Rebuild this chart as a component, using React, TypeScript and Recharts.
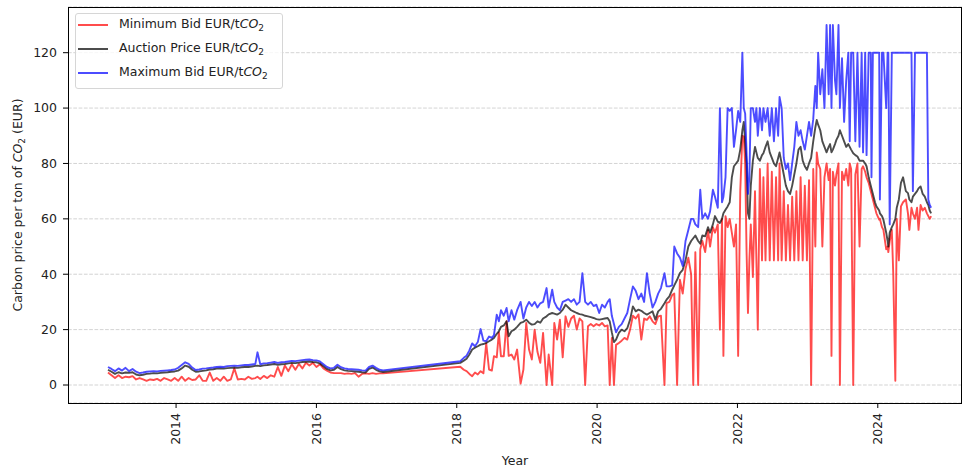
import { LineChart, Line, XAxis, YAxis, CartesianGrid } from "recharts";

// auction dates as decimal years
const dates = [
  2013.03, 2013.08, 2013.13, 2013.18, 2013.23, 2013.28, 2013.33, 2013.38, 2013.43, 2013.48,
  2013.53, 2013.58, 2013.63, 2013.68, 2013.73, 2013.78, 2013.83, 2013.88, 2013.93, 2013.98,
  2014.03, 2014.08, 2014.13, 2014.18, 2014.23, 2014.28, 2014.33, 2014.38, 2014.43, 2014.48,
  2014.53, 2014.58, 2014.63, 2014.68, 2014.73, 2014.78, 2014.83, 2014.88, 2014.93, 2014.98,
  2015.03, 2015.08, 2015.13, 2015.16, 2015.2, 2015.25, 2015.3, 2015.35, 2015.4, 2015.45,
  2015.5, 2015.55, 2015.6, 2015.65, 2015.7, 2015.75, 2015.8, 2015.85, 2015.9, 2015.95,
  2016.0, 2016.05, 2016.1, 2016.15, 2016.2, 2016.25, 2016.3, 2016.35, 2016.4, 2016.45,
  2016.5, 2016.55, 2016.6, 2016.65, 2016.7, 2016.75, 2016.8, 2016.85, 2016.9, 2016.95,
  2018.05, 2018.1, 2018.14, 2018.18, 2018.22, 2018.26, 2018.3, 2018.34, 2018.38, 2018.42,
  2018.46, 2018.5, 2018.53, 2018.57, 2018.6, 2018.63, 2018.67, 2018.71, 2018.74, 2018.78,
  2018.82, 2018.86, 2018.91, 2018.95, 2018.99, 2019.03, 2019.07, 2019.11, 2019.15, 2019.19,
  2019.23, 2019.28, 2019.31, 2019.36, 2019.39, 2019.43, 2019.47, 2019.51, 2019.55, 2019.59,
  2019.63, 2019.67, 2019.71, 2019.75, 2019.79, 2019.83, 2019.87, 2019.91, 2019.95, 2019.99,
  2020.03, 2020.07, 2020.11, 2020.15, 2020.18, 2020.21, 2020.24, 2020.27, 2020.31, 2020.35,
  2020.39, 2020.43, 2020.47, 2020.51, 2020.55, 2020.59, 2020.63, 2020.67, 2020.71, 2020.75,
  2020.79, 2020.83, 2020.87, 2020.91, 2020.96, 2020.99, 2021.03, 2021.07, 2021.1, 2021.14,
  2021.18, 2021.22, 2021.26, 2021.3, 2021.34, 2021.37, 2021.4, 2021.44, 2021.47, 2021.5,
  2021.54, 2021.58, 2021.61, 2021.65, 2021.68, 2021.72, 2021.75, 2021.78, 2021.8, 2021.83,
  2021.86, 2021.89, 2021.92, 2021.95, 2021.98, 2022.01, 2022.04, 2022.07, 2022.09, 2022.11,
  2022.13, 2022.15, 2022.17, 2022.19, 2022.22, 2022.25, 2022.27, 2022.29, 2022.32, 2022.35,
  2022.37, 2022.4, 2022.43, 2022.46, 2022.49, 2022.52, 2022.55, 2022.58, 2022.6, 2022.63,
  2022.66, 2022.69, 2022.72, 2022.75, 2022.78, 2022.81, 2022.84, 2022.87, 2022.9, 2022.93,
  2022.96, 2022.99, 2023.02, 2023.05, 2023.08, 2023.11, 2023.13, 2023.15, 2023.18, 2023.21,
  2023.24, 2023.27, 2023.3, 2023.32, 2023.34, 2023.36, 2023.39, 2023.41, 2023.44, 2023.46,
  2023.49, 2023.52, 2023.55, 2023.58, 2023.6, 2023.62, 2023.65, 2023.68, 2023.71, 2023.74,
  2023.77, 2023.79, 2023.82, 2023.84, 2023.87, 2023.9, 2023.91, 2023.93, 2023.96, 2023.98,
  2024.02, 2024.03, 2024.06, 2024.08, 2024.12, 2024.14, 2024.15, 2024.17, 2024.2, 2024.22,
  2024.25, 2024.27, 2024.3, 2024.33, 2024.36, 2024.4, 2024.43, 2024.45, 2024.48, 2024.5,
  2024.53, 2024.56, 2024.58, 2024.61, 2024.64, 2024.67, 2024.7, 2024.72, 2024.74, 2024.76,
];

const minBid = [
  4.5, 3.5, 2.5, 3.5, 2.5, 3.0, 2.8, 3.2, 2.0, 2.5,
  2.0, 1.5, 2.0, 1.8, 2.2, 1.5, 2.5, 2.0, 1.5, 2.5,
  1.5, 3.0, 1.5, 2.5, 1.8, 2.0, 3.5, 1.5, 1.5, 4.5,
  1.5, 2.5, 1.5, 3.0, 1.5, 2.0, 6.0, 2.0, 2.2, 2.0,
  3.0, 2.2, 2.5, 3.0, 2.2, 3.3, 2.5, 3.5, 3.0, 6.5,
  3.3, 7.0, 5.0, 7.5, 5.5, 7.6, 6.0, 8.0, 7.0, 8.0,
  6.5, 7.5, 6.0, 5.2, 4.5, 4.3, 4.3, 4.3, 4.0, 4.2,
  4.0, 4.3, 3.0, 4.0, 4.2, 4.0, 4.3, 4.0, 4.2, 4.2,
  6.6, 5.5, 5.0, 4.0, 3.2, 4.5, 3.8, 5.0, 4.2, 15.0,
  5.6, 5.2, 10.4, 10.0, 19.0, 10.4, 10.4, 23.0, 10.5, 11.0,
  9.2, 12.8, 0.5, 5.6, 22.4, 12.8, 9.2, 20.0, 12.0, 8.0,
  18.8, 0, 11.0, 0, 22.4, 16.4, 23.6, 10.0, 24.8, 21.0,
  24.0, 25.0, 20.0, 24.0, 23.0, 0, 21.2, 22.0, 21.2, 22.0,
  21.5, 22.4, 21.2, 21.5, 0, 17.0, 0, 14.5, 15.2, 16.0,
  17.0, 16.4, 20.0, 25.0, 24.0, 25.5, 16.4, 24.0, 23.5, 24.8,
  23.0, 22.0, 24.8, 25.0, 0, 29.6, 30.0, 32.5, 33.0, 0,
  38.0, 33.0, 42, 46, 40, 0, 48, 0, 49, 52,
  48, 56, 50, 57, 55, 58, 20, 60, 10.5, 61,
  57, 60, 55, 50, 58, 10.5, 70, 90, 89.7, 80,
  48, 26, 45, 58, 39, 70, 45, 20, 78, 45,
  75, 45, 80, 45, 77, 45, 75, 45, 80, 45,
  70, 45, 65, 45, 68, 45, 70, 45, 75, 45,
  72, 45, 74, 0, 78, 50, 84, 80, 78, 50,
  75, 80, 74, 78, 10.5, 77, 72, 76, 80, 0,
  77, 74, 78, 72, 80, 78, 0, 76, 80, 50,
  78, 79, 77, 75, 73, 70, 69, 67, 64, 62,
  59.7, 60, 57, 56, 49, 50, 48, 52, 56, 40.5,
  1.5, 60, 45, 64.5, 66, 67, 62, 56, 64, 62,
  60, 64, 56, 65, 63, 64, 62, 61, 60, 61,
];

const auctionPrice = [
  5.5, 4.8, 4.0, 4.6, 4.2, 4.5, 4.4, 4.6, 3.8, 3.5,
  3.7, 4.0, 4.1, 4.3, 4.2, 4.4, 4.5, 4.6, 4.8, 4.9,
  5.2, 6.0, 7.0, 6.6, 5.5, 4.8, 4.9, 5.1, 5.3, 5.6,
  5.7, 5.9, 6.0, 5.9, 6.1, 6.2, 6.3, 6.2, 6.4, 6.5,
  6.5, 6.7, 6.9, 7.0, 6.8, 7.1, 7.2, 7.4, 7.6, 7.3,
  7.5, 7.6, 7.8, 8.0, 7.9, 8.1, 8.3, 8.4, 8.5, 8.3,
  8.2, 7.8, 6.8, 5.8, 5.3, 5.5, 6.5, 5.7, 5.3, 5.1,
  5.0, 4.9, 4.8, 4.6, 4.5, 5.8, 6.3, 5.5, 4.9, 4.7,
  8.0, 8.8, 9.5, 11.0, 12.8, 13.5, 14.0, 14.6, 14.8, 15.2,
  15.8, 16.4, 17.0, 18.5, 19.4, 21.0, 21.5, 23.0, 17.6, 19.4,
  20.0, 21.0, 22.4, 22.8, 23.6, 22.5, 21.8, 22.0, 23.0, 22.5,
  24.0, 24.8, 25.5, 26.0, 25.8, 25.4, 26.0, 27.2, 29.0, 28.0,
  27.0, 26.5, 26.0, 25.6, 25.4, 25.0, 24.8, 24.5, 24.2, 23.8,
  23.6, 23.8, 24.0, 24.2, 23.0, 19.0, 15.5, 16.4, 18.8, 20.0,
  19.4, 20.5, 23.6, 28.4, 26.6, 27.2, 26.8, 26.0, 25.4, 26.0,
  26.6, 23.6, 26.6, 27.5, 29.5, 30.8, 32.0, 34.4, 36.0, 38.0,
  40.4, 41.6, 45, 50, 52, 53, 54, 52, 51, 54,
  53.7, 57, 55, 58, 61, 59, 58.5, 60, 62, 63.3,
  64.5, 66, 75, 79, 80, 81, 85, 92, 95, 88,
  80, 62, 60, 72, 81, 86, 84, 82, 81, 83,
  83.7, 86, 88, 84, 82, 80, 79, 82, 84, 80,
  76, 72, 70, 69, 72, 76, 80, 85, 86, 81,
  79, 77.7, 80, 82, 88, 93, 95.7, 94, 92, 88,
  86, 84, 86, 87, 84, 85, 87, 88.5, 90, 92,
  90, 88, 86, 87, 86, 85, 83.7, 83, 82.5, 81,
  81, 81, 80, 79, 75, 72, 71, 69, 66, 64.5,
  63, 62, 61, 59.7, 55, 52, 50, 55, 57, 58,
  60, 64, 67, 73, 75, 70, 69.3, 67, 66, 68,
  69, 70, 71, 71.7, 69, 68, 66, 65, 63, 62,
];

const maxBid = [
  6.5, 5.8, 5.0, 6.0, 5.2, 6.2, 5.0, 5.8, 4.8, 4.3,
  4.5, 4.8, 4.9, 5.0, 4.9, 5.1, 5.2, 5.3, 5.4, 5.6,
  6.2, 7.2, 8.2, 7.6, 6.3, 5.4, 5.6, 5.9, 6.0, 6.2,
  6.3, 6.5, 6.6, 6.5, 6.8, 6.9, 7.0, 6.9, 7.1, 7.2,
  7.2, 7.4, 7.6, 11.8, 7.5, 7.8, 7.9, 8.1, 8.3, 8.0,
  8.2, 8.3, 8.5, 8.7, 8.6, 8.8, 9.0, 9.1, 9.2, 9.0,
  8.9, 8.5, 7.5, 6.5, 6.0, 6.2, 7.3, 6.4, 6.0, 5.8,
  5.7, 5.6, 5.5, 5.3, 5.2, 6.5, 7.0, 6.2, 5.5, 5.3,
  8.6, 9.8, 10.6, 12.5, 15.0, 14.0, 15.5, 20.2, 16.0, 15.8,
  17.5, 17.0, 18.0, 25.4, 23.0, 27.0, 25.0, 27.8, 23.0, 27.0,
  23.6, 27.0, 30.0, 24.0, 28.0, 30.0, 28.5, 30.0, 28.0, 29.5,
  30.0, 35.0, 28.0, 34.4, 30.0, 28.0, 27.0, 30.0, 30.5, 31.0,
  30.0, 31.0, 29.0, 30.0, 40.4, 30.0, 29.0, 30.0, 28.5, 29.0,
  26.0, 29.0, 28.0, 30.0, 31.0, 25.0, 22.0, 19.0, 21.0, 22.0,
  24.0, 26.0, 31.0, 35.6, 34.0, 31.0, 33.0, 30.0, 40.4, 33.0,
  28.0, 30.0, 33.0, 35.0, 40.4, 35.6, 35.6, 36.0, 50.0, 47.5,
  46.0, 43.0, 52, 56, 60, 60, 58, 57, 70.5, 60,
  62, 60, 62.7, 70.5, 68, 64, 100, 66, 68, 75,
  100, 99, 100, 86, 92, 99, 95, 120, 100, 98,
  84, 69, 75, 100, 100, 95, 100, 90, 100, 92,
  100, 95, 100, 90, 100, 88, 100, 90, 104, 100,
  82, 78, 80, 74, 80, 86, 95, 90, 92, 88,
  85, 90, 95, 90, 96, 108, 100, 120, 105, 114,
  100, 130, 105, 130, 100, 130, 110, 105, 130, 100,
  118, 95, 110, 120, 88, 120, 120, 88, 120, 86,
  120, 84, 120, 83, 120, 120, 75, 120, 120, 120,
  120, 67, 120, 120, 100, 120, 120, 58, 120, 120,
  120, 120, 120, 120, 120, 120, 120, 120, 120, 70,
  120, 120, 120, 120, 120, 120, 120, 67, 65, 64,
];

const yearTicks = [2014, 2016, 2018, 2020, 2022, 2024];
const priceTicks = [0, 20, 40, 60, 80, 100, 120];

const SERIES = [
  { key: "min", label: "Minimum Bid EUR/t", color: "red" },
  { key: "auction", label: "Auction Price EUR/t", color: "black" },
  { key: "max", label: "Maximum Bid EUR/t", color: "blue" },
];

const FONT = "'DejaVu Sans', sans-serif";
const TEXT = "#222";

const chartData = dates.map((date, i) => ({
  date,
  min: minBid[i],
  auction: auctionPrice[i],
  max: maxBid[i],
}));

// 이탤릭 CO + 아래첨자 2
const CO2 = () => (
  <>
    <span style={{ fontStyle: "italic" }}>CO</span>
    <span style={{ fontSize: 9, position: "relative", top: 3 }}>2</span>
  </>
);

const YearTick = ({ x, payload }: any) => (
  <text
    x={x}
    y={413}
    transform={`rotate(-90, ${x}, 413)`}
    textAnchor="end"
    dy="0.35em"
    fontSize={12.5}
    fill={TEXT}
    fontFamily={FONT}
  >
    {payload.value}
  </text>
);

const PriceTick = ({ y, payload }: any) => (
  <text x={57} y={y} textAnchor="end" dy="0.35em" fontSize={12.5} fill={TEXT} fontFamily={FONT}>
    {payload.value}
  </text>
);

export default function App() {
  return (
    <div
      style={{
        position: "fixed",
        left: 0,
        top: 0,
        width: 963,
        height: 471,
        background: "#fff",
        fontFamily: FONT,
        color: TEXT,
      }}
    >
      <LineChart width={963} height={471} data={chartData} margin={{ top: 7, right: 1, bottom: 0, left: 0 }}>
        <CartesianGrid vertical={false} stroke="#c8c8c8" strokeWidth={0.8} strokeDasharray="3.7 1.6" />
        <XAxis
          dataKey="date"
          type="number"
          domain={[2012.46, 2025.2]}
          allowDataOverflow
          ticks={yearTicks}
          interval={0}
          height={68}
          axisLine={false}
          tickLine={{ stroke: "#000" }}
          tickSize={5}
          tick={(p: any) => <YearTick {...p} />}
        />
        <YAxis
          type="number"
          domain={[-6.5, 136.5]}
          allowDataOverflow
          ticks={priceTicks}
          interval={0}
          width={68}
          axisLine={false}
          tickLine={{ stroke: "#000" }}
          tickSize={5}
          tick={(p: any) => <PriceTick {...p} />}
        />
        {SERIES.map((s) => (
          <Line
            key={s.key}
            dataKey={s.key}
            type="linear"
            stroke={s.color}
            strokeOpacity={0.7}
            strokeWidth={1.9}
            strokeLinejoin="round"
            dot={false}
            activeDot={false}
            isAnimationActive={false}
          />
        ))}
      </LineChart>

      {/* 축 테두리 */}
      <div
        style={{
          position: "absolute",
          left: 68,
          top: 7,
          width: 894,
          height: 397,
          border: "1px solid #000",
          boxSizing: "border-box",
          pointerEvents: "none",
        }}
      />

      {/* 범례 */}
      <div
        style={{
          position: "absolute",
          left: 75,
          top: 13,
          width: 208,
          height: 76,
          border: "1px solid #d6d6d6",
          borderRadius: 3,
          background: "rgba(255,255,255,0.8)",
          boxSizing: "border-box",
        }}
      />
      {SERIES.map((s, i) => (
        <div key={s.key}>
          <div
            style={{
              position: "absolute",
              left: 78,
              top: 24 + i * 24,
              width: 30,
              height: 1.9,
              background: s.color,
              opacity: 0.7,
            }}
          />
          <div
            style={{
              position: "absolute",
              left: 119,
              top: 16 + i * 24,
              fontSize: 12.5,
              lineHeight: "16px",
              whiteSpace: "nowrap",
            }}
          >
            {s.label}
            <CO2 />
          </div>
        </div>
      ))}

      {/* y축 제목 */}
      <div
        style={{
          position: "absolute",
          left: 17,
          top: 205,
          transform: "translate(-50%, -50%) rotate(-90deg)",
          fontSize: 12.5,
          whiteSpace: "nowrap",
        }}
      >
        Carbon price per ton of <CO2 /> (EUR)
      </div>

      {/* x축 제목 */}
      <div
        style={{
          position: "absolute",
          left: 515,
          top: 460,
          transform: "translate(-50%, -50%)",
          fontSize: 12.5,
          whiteSpace: "nowrap",
        }}
      >
        Year
      </div>
    </div>
  );
}
